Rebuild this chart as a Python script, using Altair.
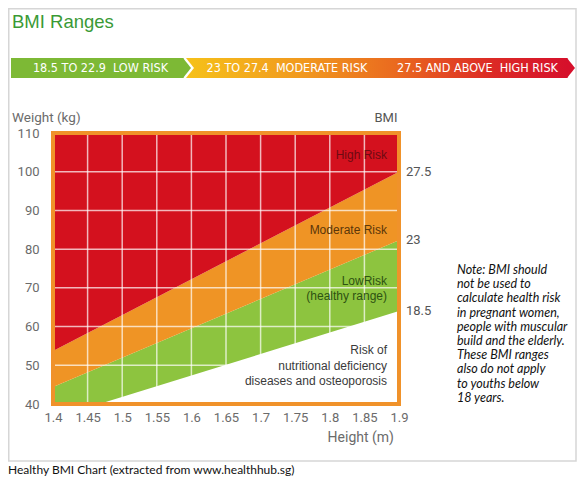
import altair as alt
import pandas as pd

# ---------------- data ----------------
heights = [1.4, 1.9]
bmi_185_line = [36.3, 64.0]
bmi_23_line = [44.4, 82.3]
bmi_275_line = [53.7, 100.0]
top_line = [110.0, 110.0]

x_ticks = [1.4, 1.45, 1.5, 1.55, 1.6, 1.65, 1.7, 1.75, 1.8, 1.85, 1.9]
y_ticks = [40, 50, 60, 70, 80, 90, 100, 110]

bmi_labels = ["27.5", "23", "18.5"]
bmi_label_w = [100.0, 82.3, 64.0]

zone_text = [
    ["High Risk"],
    ["Moderate Risk"],
    ["LowRisk", "(healthy range)"],
    ["Risk of", "nutritional deficiency", "diseases and osteoporosis"],
]
zone_w = [104.3, 84.9, 71.8, 53.9]
zone_colors = ["#6E0A12", "#5A360A", "#2E5212", "#3A3A3A"]

banner_labels = [
    "18.5 TO 22.9\u00a0 LOW RISK",
    "23 TO 27.4\u00a0 MODERATE RISK",
    "27.5 AND ABOVE\u00a0 HIGH RISK",
]
note_lines = [
    "Note: BMI should",
    "not be used to",
    "calculate health risk",
    "in pregnant women,",
    "people with muscular",
    "build and the elderly.",
    "These BMI ranges",
    "also do not apply",
    "to youths below",
    "18 years.",
]

# ---------------- styling ----------------
W, H = 346, 271
RED = "#D4111E"
ORANGE = "#EF9425"
GREEN = "#8DC43F"
BORDER = "#F0922A"
AXIS_GRAY = "#6b6b6b"
AXIS_FONT = "Roboto"
NARROW = "Liberation Sans Narrow, DejaVu Sans Condensed, Roboto, sans-serif"

xs = alt.Scale(domain=[1.4, 1.9], nice=False, zero=False)
ys = alt.Scale(domain=[40, 110], nice=False, zero=False)

xaxis = alt.Axis(values=x_ticks, labelExpr="format(datum.value, '.2~f')", title=None,
                 ticks=False, domain=False, grid=False, labelPadding=7, labelFontSize=13,
                 labelColor=AXIS_GRAY, labelFont=AXIS_FONT, labelFlush=False,
                 labelOverlap=False, labelBound=False)
yaxis = alt.Axis(values=y_ticks, format="d", title=None, ticks=False, domain=False,
                 grid=False, labelPadding=14, labelFontSize=13, labelColor=AXIS_GRAY,
                 labelFont=AXIS_FONT, labelOverlap=False, labelBound=False)

zones = pd.DataFrame({"h": heights, "b18": bmi_185_line, "b23": bmi_23_line,
                      "b27": bmi_275_line, "top": top_line})
one = pd.DataFrame({"a": [0]})

base = alt.Chart(zones)
green = base.mark_area(color=GREEN, clip=True).encode(
    x=alt.X("h:Q", scale=xs, axis=xaxis), y=alt.Y("b18:Q", scale=ys, axis=yaxis), y2="b23:Q")
orange = base.mark_area(color=ORANGE, clip=True).encode(
    x=alt.X("h:Q", scale=xs, axis=xaxis), y=alt.Y("b23:Q", scale=ys, axis=yaxis), y2="b27:Q")
red = base.mark_area(color=RED, clip=True).encode(
    x=alt.X("h:Q", scale=xs, axis=xaxis), y=alt.Y("b27:Q", scale=ys, axis=yaxis), y2="top:Q")

vgrid = alt.Chart(pd.DataFrame({"h": x_ticks[1:-1]})).mark_rule(
    color="white", opacity=0.7, strokeWidth=1.5).encode(x=alt.X("h:Q", scale=xs, axis=xaxis))
hgrid = alt.Chart(pd.DataFrame({"w": y_ticks[1:-1]})).mark_rule(
    color="white", opacity=0.7, strokeWidth=1.5).encode(y=alt.Y("w:Q", scale=ys, axis=yaxis))

border = alt.Chart(one).mark_rect(fillOpacity=0, stroke=BORDER, strokeWidth=4).encode(
    x=alt.value(0), x2=alt.value(W), y=alt.value(0), y2=alt.value(H))

bmi_df = pd.DataFrame({"h": [1.9] * 3, "w": bmi_label_w, "t": bmi_labels})
bmi_txt = alt.Chart(bmi_df).mark_text(align="left", baseline="middle", dx=7, fontSize=13,
                                      font=AXIS_FONT, color="#555555").encode(
    x=alt.X("h:Q", scale=xs, axis=xaxis), y=alt.Y("w:Q", scale=ys, axis=yaxis), text="t:N")

zone_df = pd.DataFrame({"h": [1.9] * 4, "w": zone_w, "t": zone_text, "c": zone_colors})
zone_txt = alt.Chart(zone_df).mark_text(align="right", baseline="middle", dx=-12, fontSize=12,
                                        font="Liberation Sans, Arial, sans-serif",
                                        lineHeight=15.5).encode(
    x=alt.X("h:Q", scale=xs, axis=xaxis), y=alt.Y("w:Q", scale=ys, axis=yaxis),
    text="t", color=alt.Color("c:N", scale=None))

# ---------------- decoration outside plot ----------------
frame = alt.Chart(one).mark_rect(fillOpacity=0, stroke="#d6d6d6", strokeWidth=1.5).encode(
    x=alt.value(-44.25), x2=alt.value(523), y=alt.value(-124.25), y2=alt.value(328))

title = alt.Chart(one).mark_text(text="BMI Ranges", align="left", baseline="middle",
                                 fontSize=18.5, color="#3A9A35",
                                 font="Liberation Sans, Arial, sans-serif").encode(
    x=alt.value(-41), y=alt.value(-111))

grad = alt.LinearGradient(gradient="linear", x1=0, x2=1, y1=0, y2=0, stops=[
    alt.GradientStop(color="#F6C219", offset=0),
    alt.GradientStop(color="#F19A1E", offset=0.3),
    alt.GradientStop(color="#EA6A1F", offset=0.55),
    alt.GradientStop(color="#DC2A25", offset=0.8),
    alt.GradientStop(color="#D6102B", offset=1),
])
BY0, BY1, BYC = -75, -55, -65
grad_rect = alt.Chart(one).mark_rect(color=grad).encode(
    x=alt.value(131), x2=alt.value(514.5), y=alt.value(BY0), y2=alt.value(BY1))
red_tip = alt.Chart(one).mark_point(shape="M0,-1L0.8,0L0,1Z", filled=True, opacity=1,
                                    size=400, color="#D6102B", strokeWidth=0).encode(
    x=alt.value(514), y=alt.value(BYC))
white_gap = alt.Chart(one).mark_point(shape="M0,-1L0.3,-1L1.1,0L0.3,1L0,1Z", filled=True,
                                      opacity=1, size=400, color="white", strokeWidth=0).encode(
    x=alt.value(130), y=alt.value(BYC))
green_rect = alt.Chart(one).mark_rect(color="#7DB935").encode(
    x=alt.value(-42), x2=alt.value(130.5), y=alt.value(BY0), y2=alt.value(BY1))
green_tip = alt.Chart(one).mark_point(shape="M0,-1L0.8,0L0,1Z", filled=True, opacity=1,
                                      size=400, color="#7DB935", strokeWidth=0).encode(
    x=alt.value(130), y=alt.value(BYC))

banner_txt = [
    alt.Chart(pd.DataFrame({"t": [lab]})).mark_text(
        align="center", baseline="middle", fontSize=12.5, font=NARROW, color="white").encode(
        x=alt.value(px), y=alt.value(BYC), text="t:N")
    for lab, px in zip(banner_labels, [47.5, 234, 424.5])
]

weight_title = alt.Chart(one).mark_text(text="Weight (kg)", align="left", baseline="middle",
                                        fontSize=13.5, font=AXIS_FONT, color=AXIS_GRAY).encode(
    x=alt.value(-41), y=alt.value(-15))
bmi_title = alt.Chart(one).mark_text(text="BMI", align="center", baseline="middle",
                                     fontSize=13, font=AXIS_FONT, color="#555555").encode(
    x=alt.value(333), y=alt.value(-15))
height_title = alt.Chart(one).mark_text(text="Height (m)", align="right", baseline="middle",
                                        fontSize=14, font=AXIS_FONT, color=AXIS_GRAY).encode(
    x=alt.value(341), y=alt.value(305))

note = alt.Chart(one).mark_text(align="left", baseline="middle", fontSize=12.5, font="Lato",
                                fontStyle="italic", color="#111111", lineHeight=14.2).encode(
    x=alt.value(404), y=alt.value(137), text=alt.value(note_lines))

caption = alt.Chart(one).mark_text(text="Healthy BMI Chart (extracted from www.healthhub.sg)",
                                   align="left", baseline="middle", fontSize=12, font="Lato",
                                   color="#111111").encode(
    x=alt.value(-45), y=alt.value(337))

chart = alt.layer(
    green, orange, red, vgrid, hgrid, border, bmi_txt, zone_txt,
    frame, title, grad_rect, red_tip, white_gap, green_rect, green_tip, *banner_txt,
    weight_title, bmi_title, height_title, note, caption,
).properties(
    width=W, height=H,
    padding={"left": 45, "top": 125, "right": 178, "bottom": 72},
    autosize=alt.AutoSizeParams(type="none"),
    background="white",
).configure_view(strokeWidth=0)

chart.save("out.html", embed_options={"renderer": "svg", "actions": False})
